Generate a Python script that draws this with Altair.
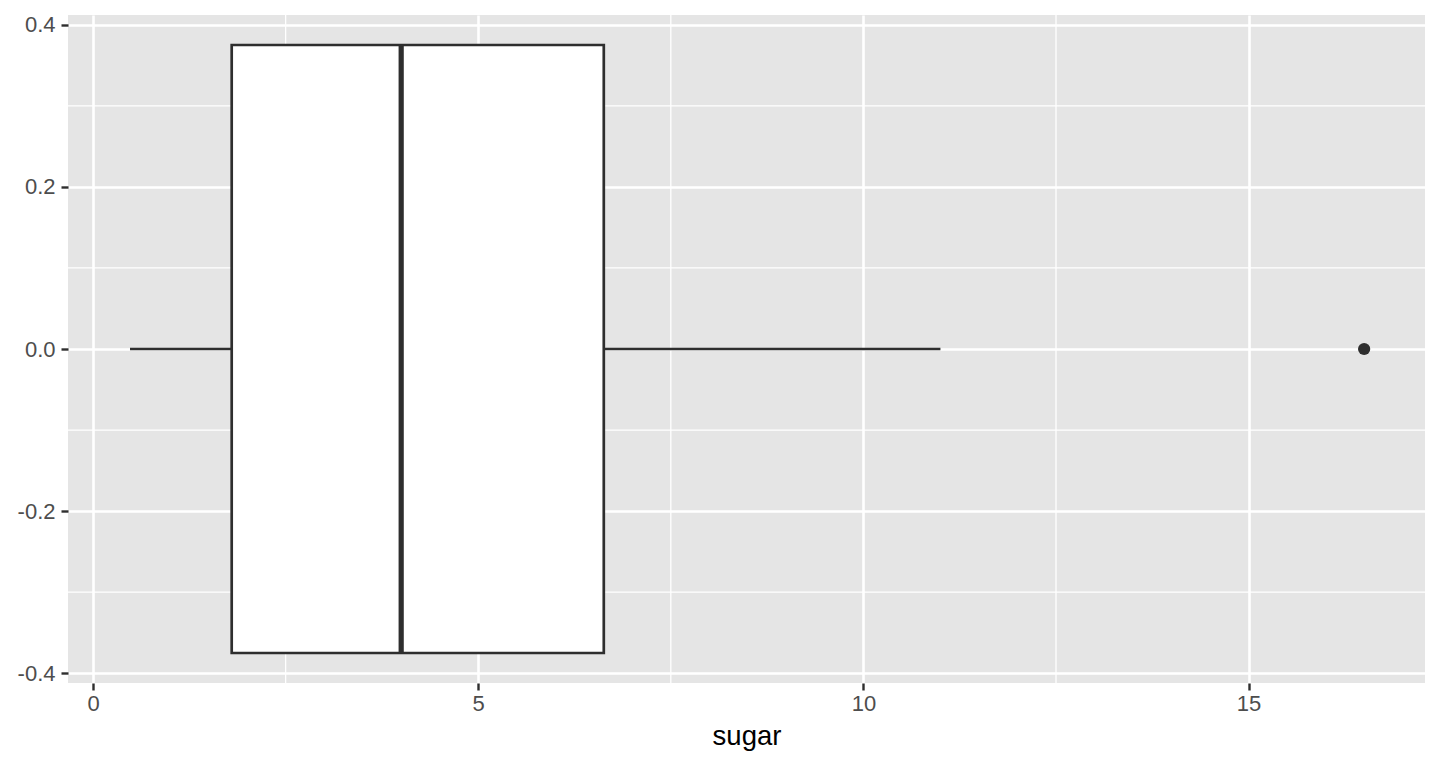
import altair as alt
import pandas as pd

# Box-plot summary of "sugar"
q1 = 1.8
median = 4.0
q3 = 6.63
whisker_low = 0.48
whisker_high = 11.0
outliers = [16.5]
box_half_width = 0.375

x_major = [0, 5, 10, 15]
x_minor = [2.5, 7.5, 12.5]
y_major = [-0.4, -0.2, 0.0, 0.2, 0.4]
y_minor = [-0.3, -0.1, 0.1, 0.3]

x_domain = [-0.325, 17.29]
y_domain = [-0.412, 0.412]

FONT = "Liberation Sans"
DARK = "#2E2E2E"

x_scale = alt.Scale(domain=x_domain, nice=False, zero=False)
y_scale = alt.Scale(domain=y_domain, nice=False, zero=False)
x_axis = alt.Axis(values=x_major, format="d", labelPadding=3, titlePadding=8)
y_axis = alt.Axis(
    values=y_major,
    labelExpr="datum.value < 0 ? '-' + format(abs(datum.value), '.1f') : format(datum.value, '.1f')",
    labelPadding=6,
)


def X(field="v"):
    return alt.X(f"{field}:Q", scale=x_scale, axis=x_axis, title="sugar")


def Y(field="y"):
    return alt.Y(f"{field}:Q", scale=y_scale, axis=y_axis, title=None)


minor_x_df = pd.DataFrame({"v": x_minor, "y": [y_domain[0]] * len(x_minor), "y2": [y_domain[1]] * len(x_minor)})
minor_y_df = pd.DataFrame({"y": y_minor, "v": [x_domain[0]] * len(y_minor), "v2": [x_domain[1]] * len(y_minor)})

minor_x = alt.Chart(minor_x_df).mark_rule(color="white", strokeWidth=1.3).encode(
    x=X(), y=Y(), y2="y2:Q"
)
minor_y = alt.Chart(minor_y_df).mark_rule(color="white", strokeWidth=1.3).encode(
    x=X(), x2="v2:Q", y=Y()
)

whisk_df = pd.DataFrame({"v": [whisker_low, q3], "v2": [q1, whisker_high], "y": [0.0, 0.0]})
whiskers = alt.Chart(whisk_df).mark_rule(color=DARK, strokeWidth=2.7).encode(
    x=X(), x2="v2:Q", y=Y()
)

box_df = pd.DataFrame({"v": [q1], "v2": [q3], "y": [-box_half_width], "y2": [box_half_width]})
box = alt.Chart(box_df).mark_rect(fill="white", stroke=DARK, strokeWidth=2.7).encode(
    x=X(), x2="v2:Q", y=Y(), y2="y2:Q"
)

med_df = pd.DataFrame({"v": [median], "y": [-box_half_width], "y2": [box_half_width]})
med = alt.Chart(med_df).mark_rule(color=DARK, strokeWidth=5.2).encode(
    x=X(), y=Y(), y2="y2:Q"
)

out_df = pd.DataFrame({"v": outliers, "y": [0.0] * len(outliers)})
out = alt.Chart(out_df).mark_circle(color=DARK, opacity=1, size=150).encode(
    x=X(), y=Y()
)

chart = (
    alt.layer(minor_x, minor_y, whiskers, box, med, out)
    .properties(
        width=1357,
        height=668,
        autosize=alt.AutoSizeParams(type="none"),
        padding={"left": 60, "top": 7, "right": 7, "bottom": 70},
        background="white",
    )
    .configure_view(fill="#E5E5E5", strokeWidth=0)
    .configure_axis(
        domain=False,
        grid=True,
        gridColor="white",
        gridWidth=2.6,
        tickColor=DARK,
        tickWidth=2.4,
        tickSize=7,
        labelColor="#4D4D4D",
        labelFont=FONT,
        labelFontSize=22,
        titleFont=FONT,
        titleFontSize=27.5,
        titleFontWeight="normal",
        titleColor="black",
    )
)

chart.save("out.html", embed_options={"renderer": "svg", "actions": False})
